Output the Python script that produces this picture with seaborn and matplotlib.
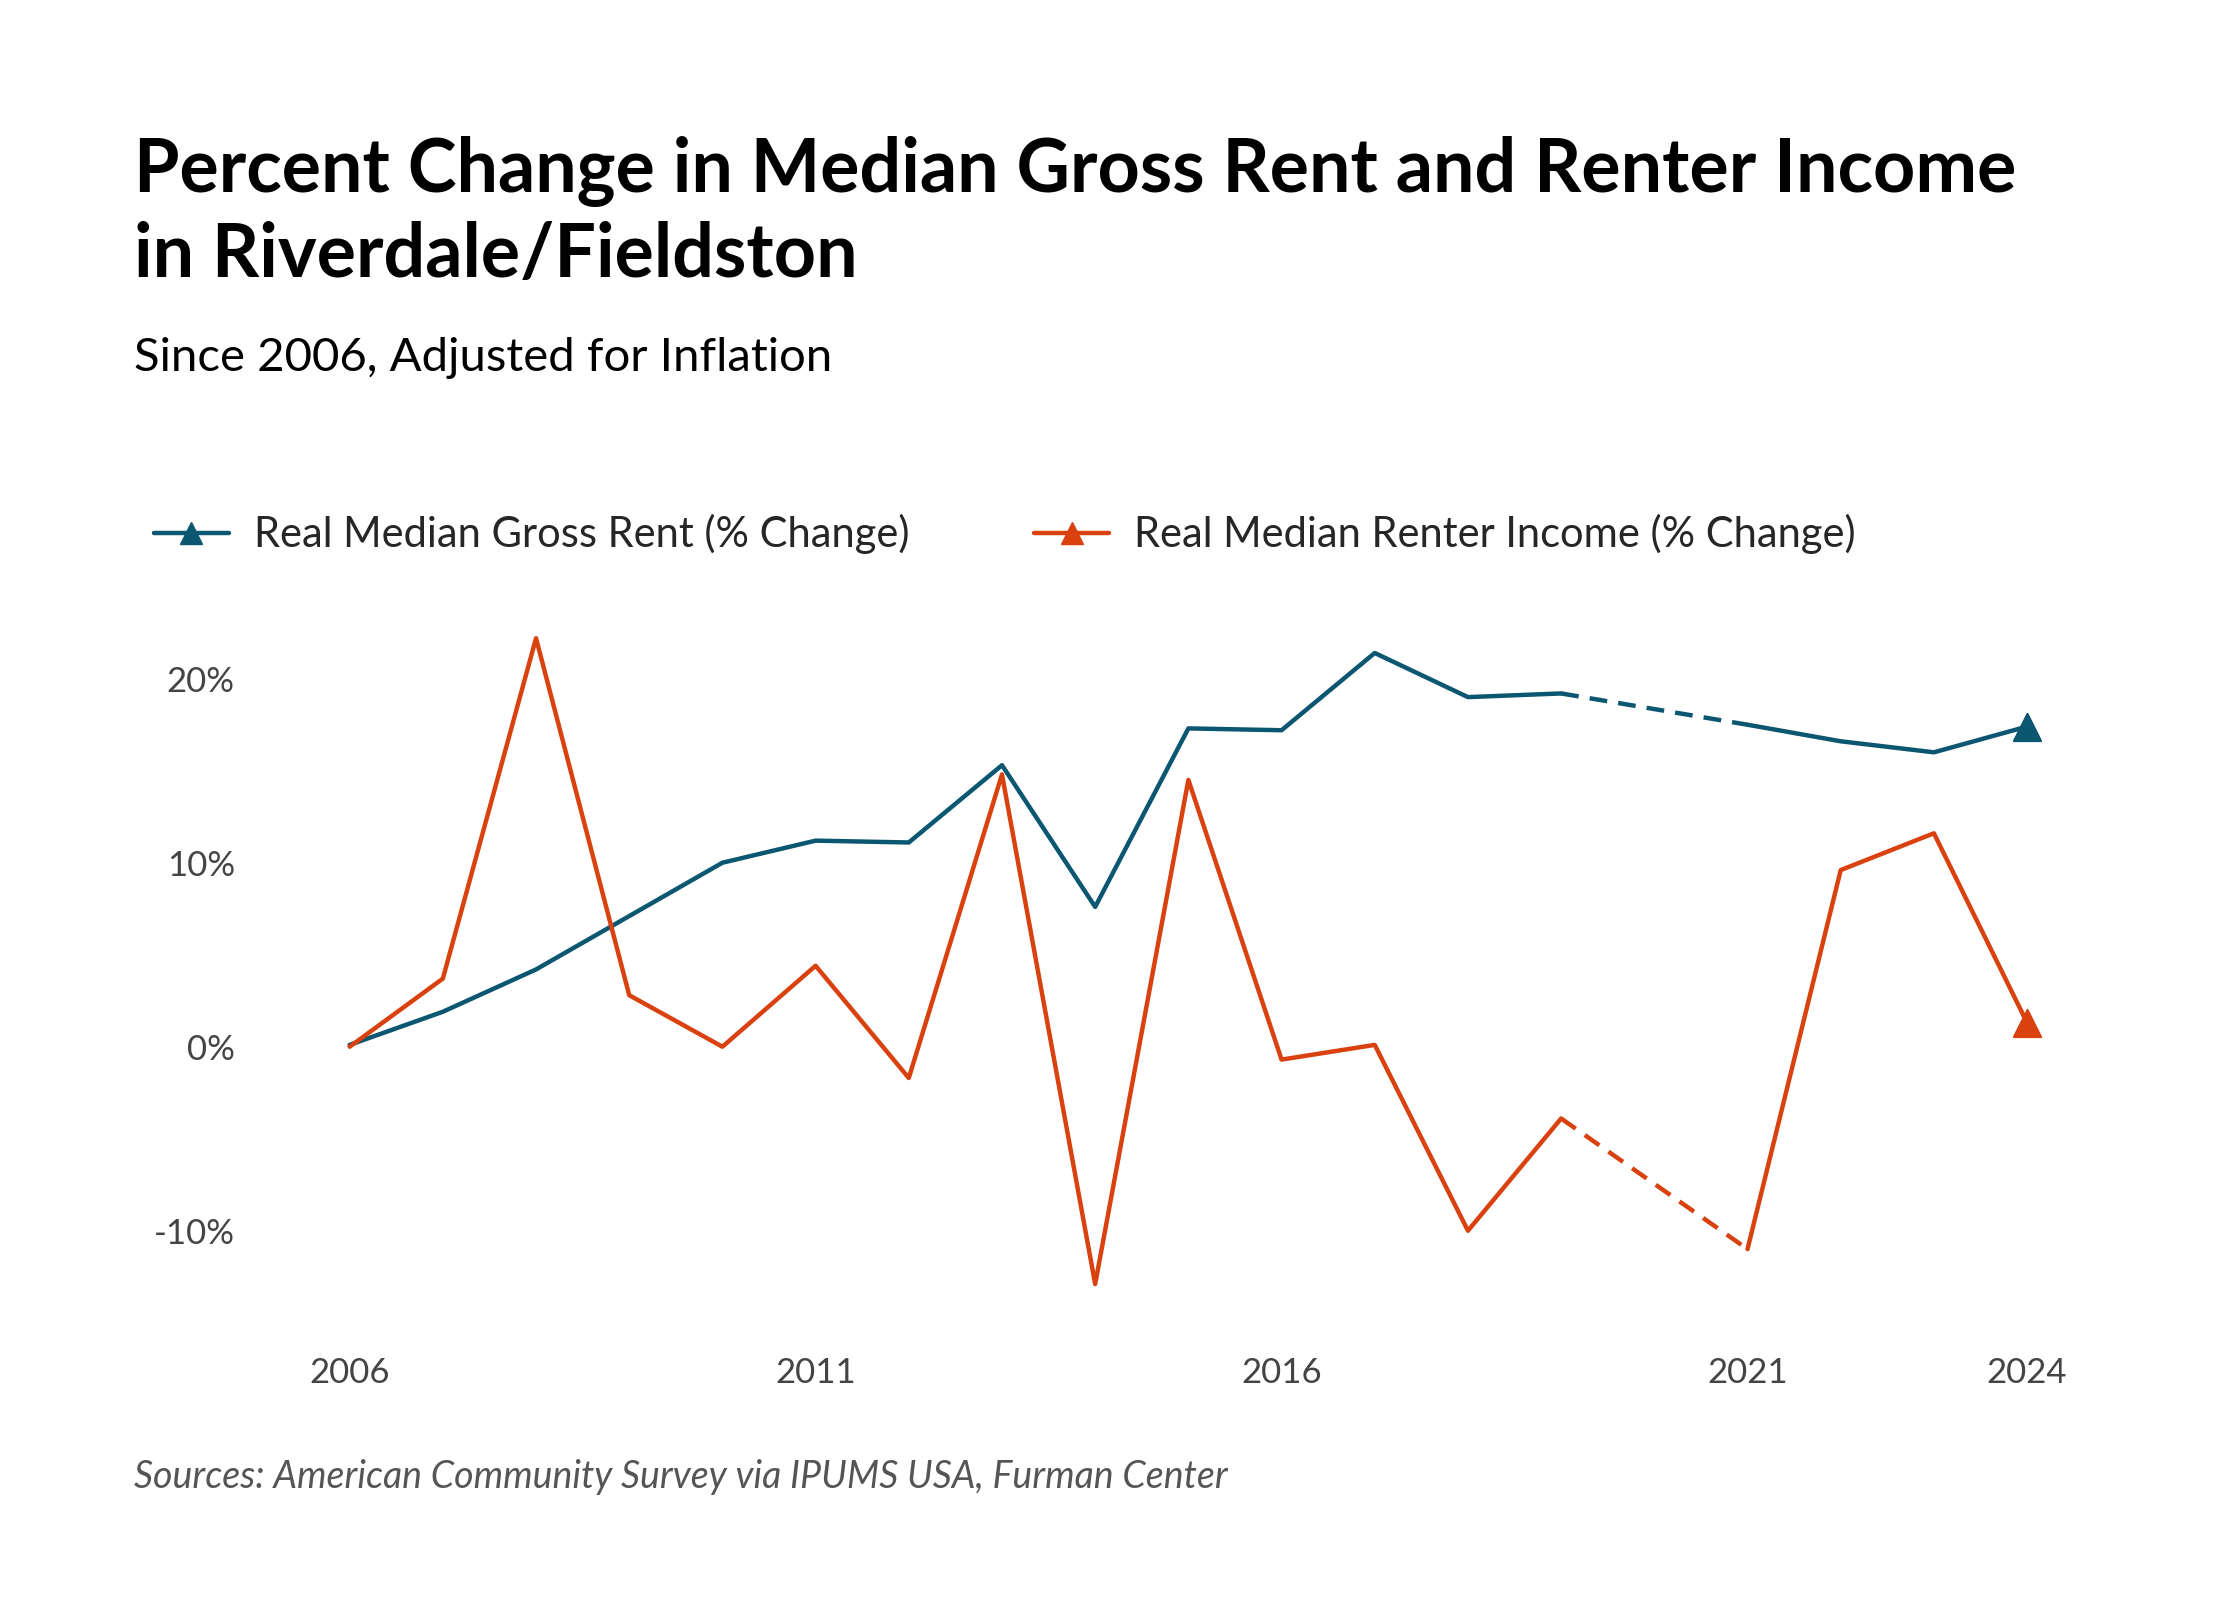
import matplotlib
matplotlib.use("Agg")
import matplotlib.pyplot as plt
from matplotlib.lines import Line2D
import seaborn as sns
import pandas as pd

years = [2006, 2007, 2008, 2009, 2010, 2011, 2012, 2013, 2014, 2015, 2016, 2017, 2018, 2019, 2021, 2022, 2023, 2024]
rent = [0.1, 1.9, 4.2, 7.1, 10.0, 11.2, 11.1, 15.3, 7.6, 17.3, 17.2, 21.4, 19.0, 19.2, 17.5, 16.6, 16.0, 17.4]
income = [0.0, 3.7, 22.2, 2.8, 0.0, 4.4, -1.7, 14.8, -12.9, 14.5, -0.7, 0.1, -10.0, -3.9, -11.0, 9.6, 11.6, 1.3]
xticks = [2006, 2011, 2016, 2021, 2024]
yticks = [-10, 0, 10, 20]
labels = ["Real Median Gross Rent (% Change)", "Real Median Renter Income (% Change)"]
colors = ["#0b5670", "#d9420f"]

sns.set_theme(style="white")
plt.rcParams['font.family'] = ['Lato', 'DejaVu Sans']

fig = plt.figure(figsize=(22.4, 16), dpi=100)
ax = fig.add_axes([0.107, 0.171, 0.82, 0.46])

for vals, c in zip([rent, income], colors):
    df = pd.DataFrame({"year": years, "v": vals})
    a = df[df.year <= 2019]
    b = df[df.year >= 2021]
    g = df[(df.year >= 2019) & (df.year <= 2021)]
    sns.lineplot(data=a, x="year", y="v", color=c, lw=3.2, ax=ax)
    sns.lineplot(data=b, x="year", y="v", color=c, lw=3.2, ax=ax)
    sns.lineplot(data=g, x="year", y="v", color=c, lw=3.2, ax=ax, linestyle=(0, (4, 2.5)))
    last = df[df.year == 2024]
    sns.scatterplot(data=last, x="year", y="v", color=c, marker="^", s=380, ax=ax, edgecolor=c, zorder=5)

ax.set_xlim(2004.82, 2024.53)
ax.set_ylim(-15.2, 24.8)
ax.set_xticks(xticks)
ax.set_xticklabels([str(t) for t in xticks])
ax.set_yticks(yticks)
ax.set_yticklabels([f"{t}%" for t in yticks])
ax.tick_params(axis='both', labelsize=25, colors="#444444", length=0)
ax.tick_params(axis='x', pad=22)
ax.set_xlabel("")
ax.set_ylabel("")
for s in ax.spines.values():
    s.set_visible(False)

handles = [Line2D([0], [0], color=c, lw=3.2, marker="^", markersize=16) for c in colors]
fig.legend(handles, labels, loc="upper left", bbox_to_anchor=(0.052, 0.702), ncol=2,
           frameon=False, fontsize=30, handlelength=1.8, columnspacing=3.0, handletextpad=0.6)

fig.text(0.06, 0.915, "Percent Change in Median Gross Rent and Renter Income\nin Riverdale/Fieldston",
         fontsize=53, fontweight="bold", color="black", va="top", ha="left", linespacing=1.25)
fig.text(0.06, 0.776, "Since 2006, Adjusted for Inflation", fontsize=34, color="black", va="center", ha="left")
fig.text(0.06, 0.077, "Sources: American Community Survey via IPUMS USA, Furman Center",
         fontsize=27, style="italic", color="#555555", va="center", ha="left")

fig.savefig("out.png", dpi=100, facecolor="white")
